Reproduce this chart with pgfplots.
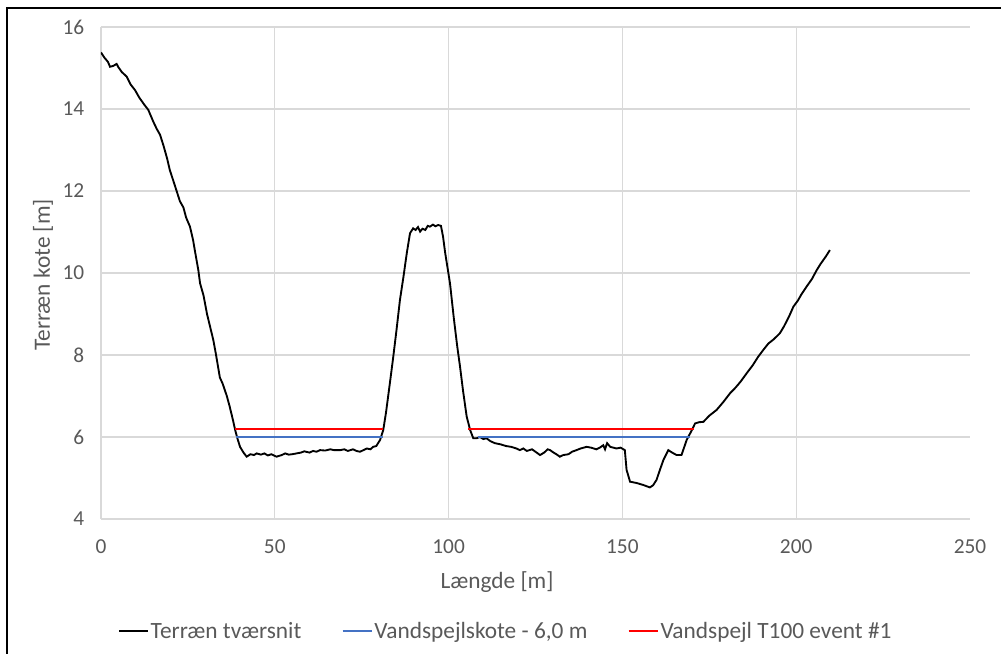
\documentclass[border=0pt]{standalone}
\usepackage{pgfplots}
\pgfplotsset{compat=1.18}
\usepackage{fontspec}
\setmainfont{Carlito}
\definecolor{txt}{HTML}{595959}
\definecolor{grd}{HTML}{D9D9D9}
\definecolor{bl}{HTML}{4472C4}
\definecolor{rd}{HTML}{FF0000}
\begin{document}
\begin{tikzpicture}
\path[use as bounding box] (-75.75pt,-101.25pt) rectangle (675pt,389.25pt);
\begin{axis}[
  scale only axis, width=651.75pt, height=369pt,
  xmin=0, xmax=250, ymin=4, ymax=16,
  xtick={0,50,100,150,200}, extra x ticks={250}, extra x tick style={grid=none},
  ytick={4,6,...,16},
  grid=major, major grid style={grd, line width=0.9pt},
  axis line style={draw=none},
  tick style={draw=none},
  tick label style={text=txt, font=\fontsize{16}{19}\selectfont},
  /pgf/number format/assume math mode=true,
  xticklabel style={yshift=-12pt},
  yticklabel style={xshift=-9pt},
  xlabel={Længde [m]}, ylabel={Terræn kote [m]},
  label style={text=txt, font=\fontsize{17.5}{21}\selectfont},
  xlabel style={at={(axis description cs:0.4557,-0.128)}, anchor=center},
  ylabel style={at={(axis description cs:-0.0667,0.496)}, anchor=center},
  unbounded coords=jump,
  legend columns=3,
  legend style={draw=none, fill=none, at={(axis description cs:0.4655,-0.2276)}, anchor=center,
    font=\fontsize{17.5}{21}\selectfont, text=txt,
    nodes={inner xsep=1pt},
    /tikz/every even column/.append style={column sep=29pt},
    cells={anchor=west}, inner sep=0pt},
  legend image code/.code={\draw[#1] (0pt,0pt) -- (22pt,0pt);},
]
\addplot[black, line width=1.4pt] coordinates {
(0,15.38) (1,15.25) (2,15.15) (2.6,15.03) (3.5,15.05) (4.5,15.10) (5,15.02) (6,14.9)
(7.4,14.79) (8.5,14.6) (9.8,14.46) (11,14.28) (12.5,14.1) (13.6,13.98) (15,13.7)
(16,13.52) (17,13.37) (18,13.1) (19,12.8) (19.8,12.51) (21,12.2) (22.7,11.75)
(23.7,11.6) (24.5,11.35) (25.6,11.13) (26.5,10.80) (27,10.55) (28,10.07) (28.5,9.75)
(29.5,9.45) (30.5,9.0) (31.5,8.65) (32.3,8.37) (33,8.05) (34.2,7.45) (35,7.3)
(36.2,7.0) (37,6.75) (38,6.4) (38.6,6.17) (39.3,5.95) (40,5.76) (41,5.62) (41.9,5.52)
(43,5.58) (44,5.56) (44.8,5.60) (46,5.57) (47,5.60) (48,5.55) (49,5.58) (50.5,5.52)
(52,5.56) (53,5.60) (54,5.57) (55,5.58) (56.3,5.60) (57.5,5.62) (58.5,5.65) (60,5.62)
(61,5.66) (62,5.64) (63,5.68) (64.5,5.67) (66,5.70) (67,5.68) (68.8,5.68) (70,5.70)
(71,5.66) (72.5,5.70) (73.5,5.66) (74.5,5.64) (75.5,5.68) (76.5,5.72) (77.5,5.70)
(78.3,5.76) (79.2,5.78) (80.3,5.93) (81.2,6.17) (82,6.6) (83.1,7.31) (84,7.9) (85,8.6)
(86,9.34) (87,9.9) (88,10.5) (88.9,10.97) (89.8,11.09) (90.5,11.05) (91.2,11.12)
(91.8,11.01) (92.5,11.08) (93.3,11.05) (94,11.15) (94.6,11.13) (95.5,11.18) (96.2,11.14)
(97,11.17) (97.8,11.15) (98.4,10.89) (99,10.5) (100.4,9.75) (101.5,8.9) (102.5,8.2)
(103.3,7.71) (104.2,7.1) (105.2,6.50) (106.2,6.17) (107.1,5.97) (108.1,5.97) (109,6.0)
(110,5.95) (110.9,5.97) (112,5.90) (113.3,5.85) (115,5.82) (116.5,5.78) (118,5.76)
(119.5,5.72) (120.5,5.68) (121.5,5.72) (122.5,5.66) (124,5.70) (125,5.64) (126.3,5.56)
(127.5,5.62) (128.5,5.70) (129.2,5.68) (130.2,5.62) (131,5.58) (132,5.52) (133,5.56)
(134.5,5.58) (135.5,5.64) (136.8,5.68) (138,5.72) (139.7,5.76) (141,5.74) (142.5,5.70)
(143.5,5.74) (144.5,5.80) (145,5.70) (145.6,5.85) (146.5,5.76) (148.3,5.72) (149.5,5.74)
(150.7,5.68) (151.2,5.2) (152.2,4.91) (154,4.88) (156,4.83) (157.9,4.77) (158.8,4.82)
(159.8,4.95) (160.8,5.2) (161.8,5.44) (163.2,5.68) (164.3,5.62) (165.6,5.56) (167,5.56)
(168.5,5.93) (170,6.17) (170.9,6.33) (172,6.36) (173.3,6.37) (175,6.52) (177.1,6.66)
(179,6.85) (181,7.07) (182.5,7.2) (184,7.35) (185.8,7.56) (187.5,7.75) (189,7.95)
(190.5,8.12) (192,8.28) (193.5,8.38) (195.3,8.53) (196.5,8.70) (198,8.95) (199.2,9.18)
(200.5,9.33) (201.5,9.48) (203,9.67) (204.5,9.85) (205.9,10.07) (207,10.22)
(208.5,10.40) (209.7,10.56)
};
\addlegendentry{Terræn tværsnit}
\addplot[bl, line width=1.8pt] coordinates {(38.8,6.0) (81,6.0) (95,nan) (108.5,6.0) (169.5,6.0)};
\addlegendentry{Vandspejlskote - 6,0 m}
\addplot[rd, line width=1.8pt] coordinates {(38.5,6.2) (81.2,6.2) (95,nan) (105.7,6.2) (170.5,6.2)};
\addlegendentry{Vandspejl T100 event \#1}
\end{axis}
\draw[black, line width=1.5pt] (-70.5pt,-101.25pt) -- (-70.5pt,383.25pt) -- (675pt,383.25pt);
\end{tikzpicture}
\end{document}
